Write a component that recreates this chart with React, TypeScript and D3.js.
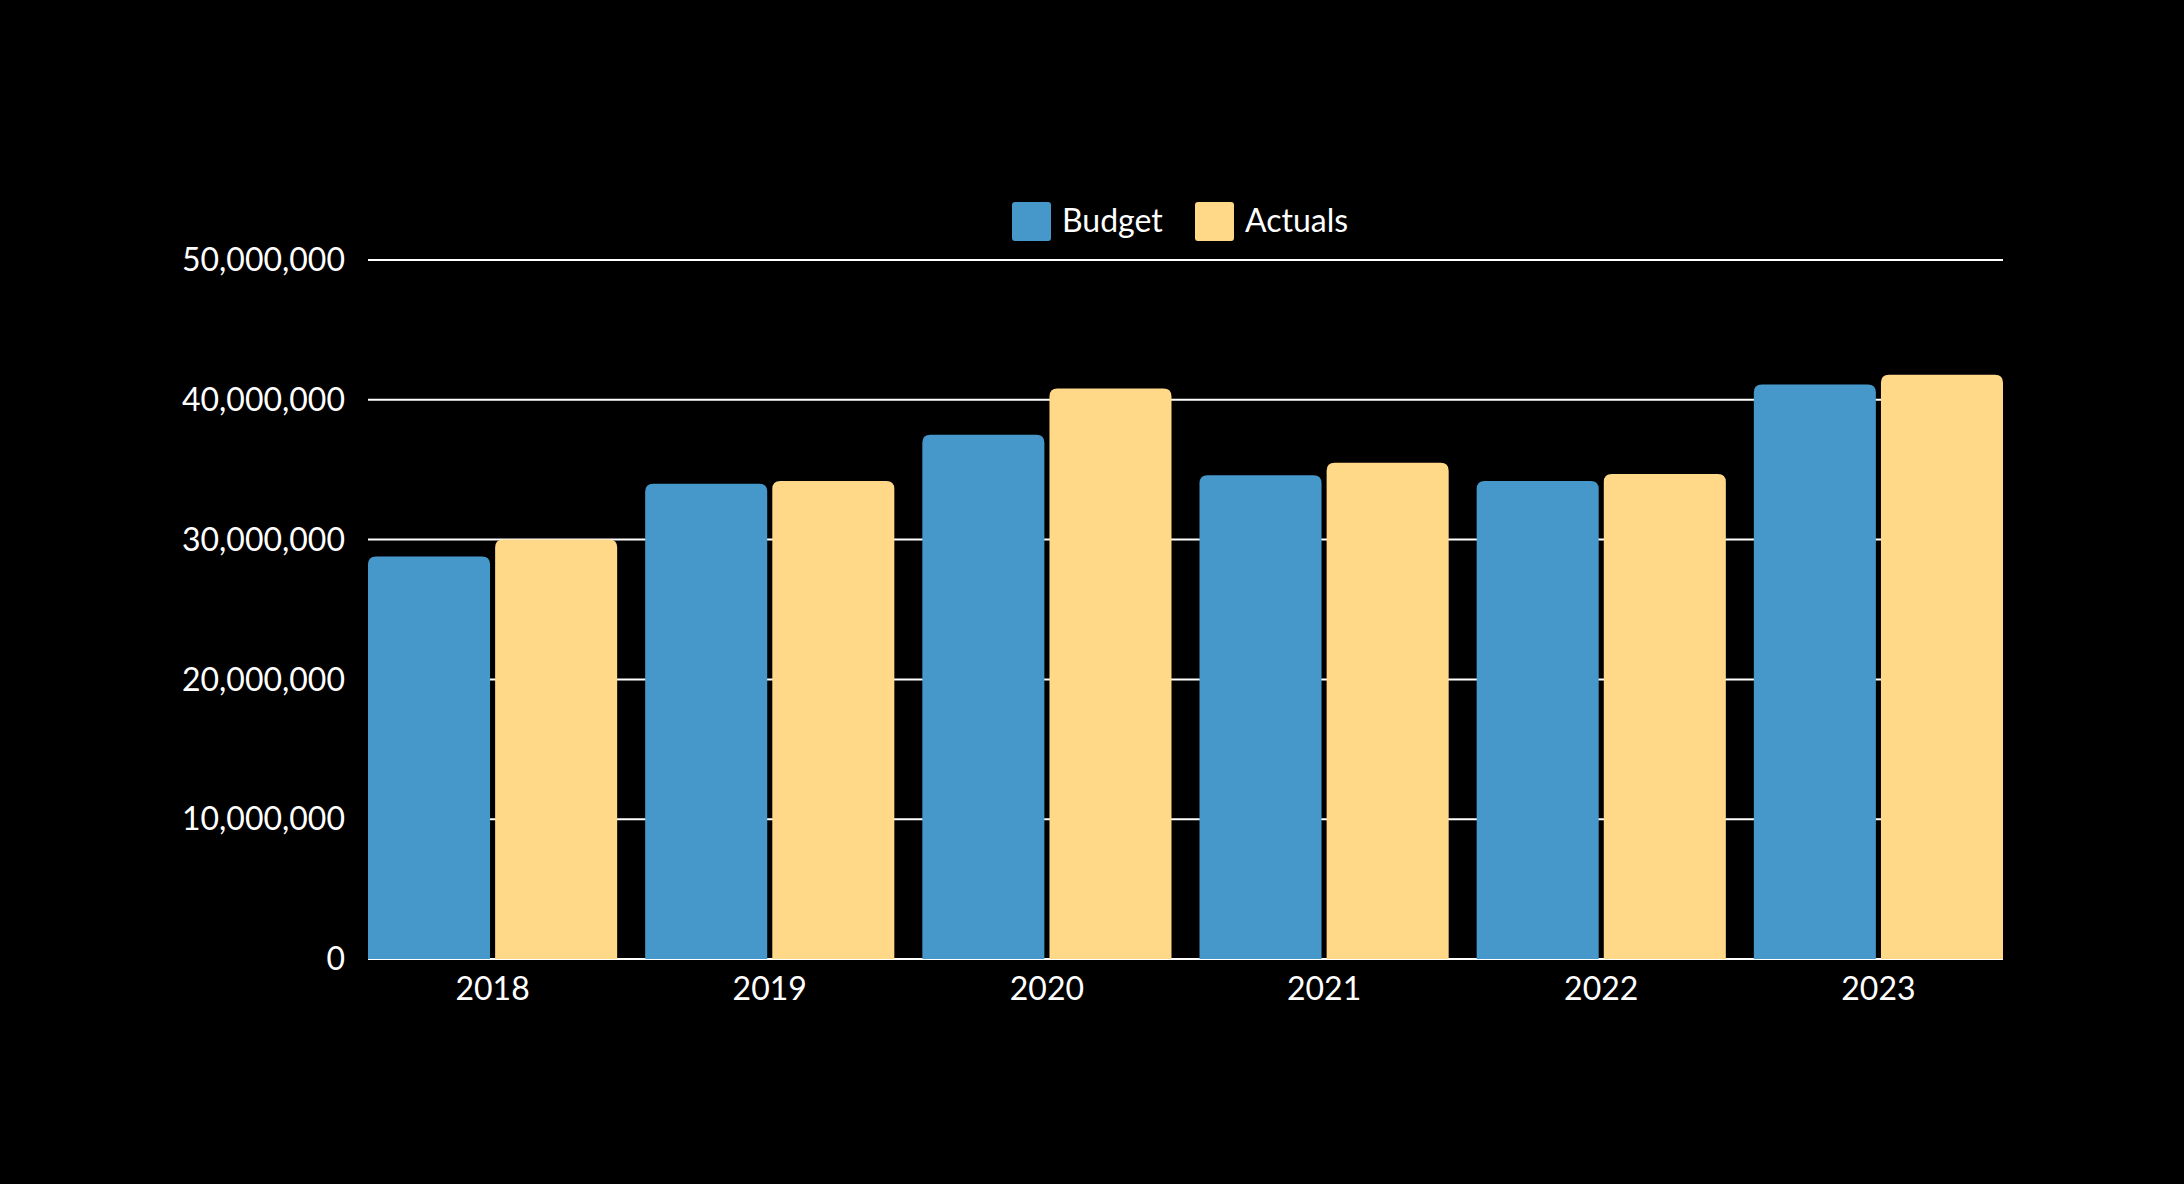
import * as d3 from 'd3';

// chart data
const years = ['2018', '2019', '2020', '2021', '2022', '2023'];
const seriesNames = ['Budget', 'Actuals'];
const budget = [28800000, 34000000, 37500000, 34600000, 34200000, 41100000];
const actuals = [30000000, 34200000, 40800000, 35500000, 34700000, 41800000];
const yTicks = [0, 10000000, 20000000, 30000000, 40000000, 50000000];

const colors = ['#4698CB', '#FFD888'];

const W = 2184;
const H = 1184;
const margin = { top: 260, right: 181, bottom: 225, left: 368 };
const FONT = 'Lato, "Noto Sans", sans-serif';
const FS = 32;

// bar path with only the top corners rounded
const topRounded = (x: number, y: number, w: number, h: number, r: number) => {
  const rr = Math.min(r, w / 2, h);
  return `M${x},${y + h}V${y + rr}Q${x},${y} ${x + rr},${y}H${x + w - rr}Q${x + w},${y} ${x + w},${y + rr}V${y + h}Z`;
};

export default function App() {
  const innerW = W - margin.left - margin.right;
  const innerH = H - margin.top - margin.bottom;

  const x0 = d3.scaleBand().domain(years).range([0, innerW]).paddingInner(0.101).paddingOuter(0);
  const x1 = d3.scaleBand().domain(seriesNames).range([0, x0.bandwidth()]).paddingInner(0.04);
  const y = d3.scaleLinear().domain([0, 50000000]).range([innerH, 0]);
  const fmt = d3.format(',');

  const values = [budget, actuals];

  // legend layout
  const legendY = 202;
  const sq = 39;
  const legendItems = [
    { name: 'Budget', x: 1012, color: colors[0] },
    { name: 'Actuals', x: 1195, color: colors[1] },
  ];

  return (
    <svg
      width={W}
      height={H}
      style={{ position: 'absolute', left: 0, top: 0, display: 'block' }}
      fontFamily={FONT}
    >
      <rect width={W} height={H} fill="#000" />

      {/* legend */}
      {legendItems.map(d => (
        <g key={d.name}>
          <rect x={d.x} y={legendY} width={sq} height={sq} rx={3} fill={d.color} />
          <text x={d.x + sq + 11} y={legendY + sq / 2 - 1} dy="0.35em" fill="#fff" fontSize={FS}>
            {d.name}
          </text>
        </g>
      ))}

      <g transform={`translate(${margin.left},${margin.top})`}>
        {/* gridlines + y labels */}
        {yTicks.map(t => (
          <g key={t}>
            <line x1={0} x2={innerW} y1={y(t)} y2={y(t)} stroke="#fff" strokeWidth={2} />
            <text x={-23} y={y(t)} dy="0.35em" textAnchor="end" fill="#fff" fontSize={FS}>
              {fmt(t)}
            </text>
          </g>
        ))}

        {/* bars */}
        {years.map((yr, i) => (
          <g key={yr} transform={`translate(${x0(yr)},0)`}>
            {seriesNames.map((s, j) => {
              const v = values[j][i];
              return (
                <path
                  key={s}
                  d={topRounded(x1(s) as number, y(v), x1.bandwidth(), innerH - y(v), 8)}
                  fill={colors[j]}
                />
              );
            })}
            <text
              x={x0.bandwidth() / 2}
              y={innerH + 30}
              dy="0.35em"
              textAnchor="middle"
              fill="#fff"
              fontSize={FS}
            >
              {yr}
            </text>
          </g>
        ))}
      </g>
    </svg>
  );
}
